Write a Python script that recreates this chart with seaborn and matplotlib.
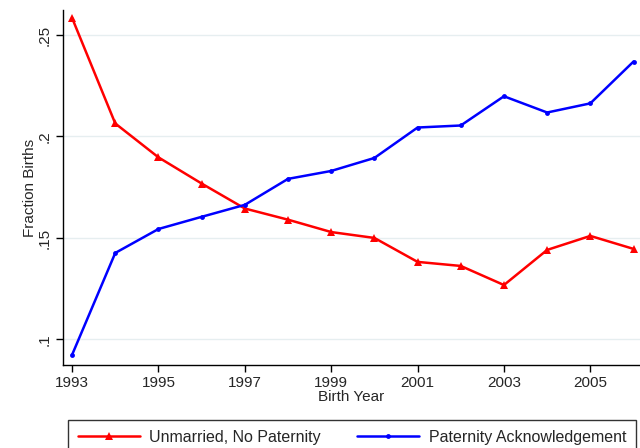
import matplotlib
matplotlib.use("Agg")
import matplotlib.pyplot as plt
import seaborn as sns
import pandas as pd

years = list(range(1993, 2007))
unmarried = [0.2584, 0.2064, 0.1897, 0.1768, 0.1645, 0.1590, 0.1529, 0.1500,
             0.1382, 0.1362, 0.1268, 0.1441, 0.1510, 0.1446]
paternity = [0.0924, 0.1426, 0.1544, 0.1604, 0.1663, 0.1791, 0.1830, 0.1894,
             0.2044, 0.2054, 0.2198, 0.2118, 0.2163, 0.2369]
series_names = ["Unmarried, No Paternity", "Paternity Acknowledgement"]
xticks = [1993, 1995, 1997, 1999, 2001, 2003, 2005]
yticks = [0.10, 0.15, 0.20, 0.25]
ytick_labels = [".1", ".15", ".2", ".25"]

df = pd.DataFrame({
    "year": years * 2,
    "value": unmarried + paternity,
    "series": [series_names[0]] * len(years) + [series_names[1]] * len(years),
})

sns.set_style("white")
plt.rcParams["font.family"] = ["Liberation Sans", "DejaVu Sans"]

fig = plt.figure(figsize=(6.4, 4.48), dpi=100)
ax = fig.add_axes([63 / 640, 1 - 365 / 448, (640 - 63) / 640, (365 - 10) / 448])

sns.lineplot(data=df, x="year", y="value", hue="series", style="series",
             palette={series_names[0]: "#ff0000", series_names[1]: "#0000ff"},
             markers={series_names[0]: "^", series_names[1]: "o"},
             dashes=False, markersize=5, linewidth=1.8, markeredgewidth=0,
             ax=ax, legend=False)
for line, ms in zip(ax.lines, [5.5, 3.5]):
    line.set_markersize(ms)

ax.set_xlim(1992.79, 2006.15)
ax.set_ylim(0.0874, 0.2623)
ax.set_xticks(xticks)
ax.set_xticklabels([str(x) for x in xticks], fontsize=11)
ax.set_yticks(yticks)
ax.set_yticklabels(ytick_labels, fontsize=11, rotation=90, va="center")
ax.grid(axis="y", color="#e6eef0", linewidth=1.0)
ax.grid(axis="x", visible=False)
ax.set_axisbelow(True)
for s in ["top", "right"]:
    ax.spines[s].set_visible(False)
for s in ["left", "bottom"]:
    ax.spines[s].set_color("black")
    ax.spines[s].set_linewidth(1.0)
ax.tick_params(axis="both", direction="out", length=5, width=1, color="black",
               left=True, bottom=True, pad=3)
ax.set_xlabel("Birth Year", fontsize=11, labelpad=0)
ax.set_ylabel("Fraction Births", fontsize=11, labelpad=1)

from matplotlib.lines import Line2D
handles = [
    Line2D([], [], color="#ff0000", marker="^", markersize=5.5, linewidth=1.8, markeredgewidth=0),
    Line2D([], [], color="#0000ff", marker="o", markersize=3.5, linewidth=1.8, markeredgewidth=0),
]
leg = fig.legend(handles, series_names, loc="upper left",
                 bbox_to_anchor=(68 / 640, 1 - 420 / 448, (636 - 68) / 640, 0),
                 mode="expand", ncol=2, fontsize=11.5, frameon=True,
                 fancybox=False, edgecolor="black", handlelength=3.9,
                 handletextpad=0.6, borderpad=0.6, borderaxespad=0,
                 columnspacing=2.0)
leg.get_frame().set_linewidth(1.0)

fig.savefig("out.png", dpi=100)
